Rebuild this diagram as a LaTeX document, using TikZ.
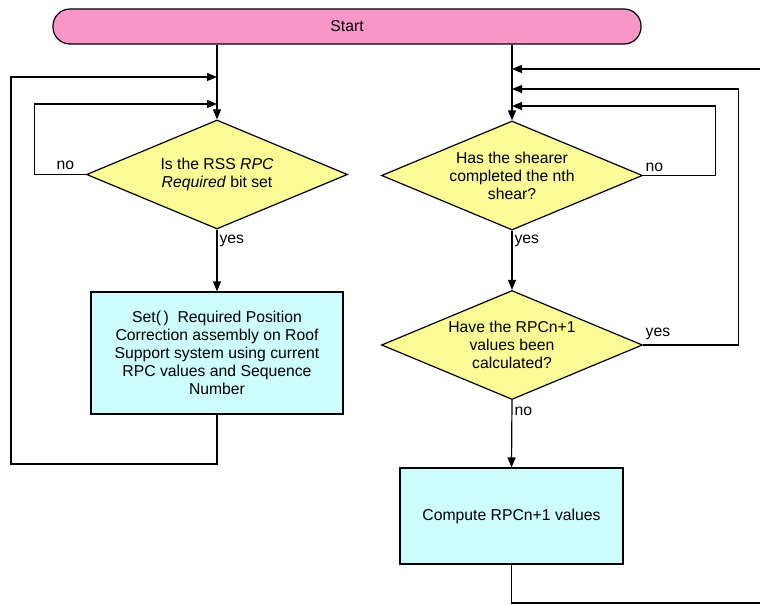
\documentclass[tikz,border=0pt]{standalone}
\usepackage{fontspec}
\setmainfont{Liberation Sans}
\usepackage{xcolor}
\usepackage{tikz}
\usetikzlibrary{shapes.geometric}
\usetikzlibrary{arrows.meta}

\definecolor{startpink}{RGB}{248,150,200}
\definecolor{askyellow}{RGB}{250,250,150}
\definecolor{docyan}{RGB}{204,252,252}

\tikzset{
  txt/.style={font=\fontsize{15.8}{18}\selectfont, text=black},
  terminal/.style={txt, draw, line width=1.2bp, fill=startpink, rounded corners=17bp,
    minimum width=588bp, minimum height=35bp, inner sep=0pt},
  decision/.style={draw, line width=1.2bp, fill=askyellow, diamond, inner sep=0pt,
    minimum width=261bp, minimum height=109bp},
  process/.style={txt, draw, line width=1.2bp, fill=docyan, rectangle, align=center, inner sep=0pt},
  flow/.style={line width=1.2bp, -{Triangle[length=10bp,width=8bp]}},
  lbl/.style={txt, inner sep=2bp}
}

\begin{document}
\begin{tikzpicture}[x=1bp, y=-1bp]
   \useasboundingbox (0,0) rectangle (760,605);
   \clip (0,0) rectangle (760,605);

   \node[terminal] (start) at (347,26.5) {Start};

   % left branch
   \node[decision, label={[txt, align=center]center:Is the RSS \textit{RPC}\\\textit{Required} bit set}] (rss) at (217,174.5) {};
   \node[process, minimum width=252bp, minimum height=122bp] (setrpc) at (217,353)
     {Set(\,)\ \ Required Position\\Correction assembly on Roof\\Support system using current\\RPC values and Sequence\\Number};

   % right branch
   \node[decision, label={[txt, align=center]center:Has the shearer\\completed the nth\\shear?}] (shear) at (512,175.5) {};
   \node[decision, label={[txt, align=center]center:Have the RPCn+1\\values been\\calculated?}] (calc) at (512,345) {};
   \node[process, minimum width=223bp, minimum height=96bp] (comp) at (511.5,516) {Compute RPCn+1 values};

   % join points on the columns
   \coordinate (joinA) at (217,77);
   \coordinate (joinB) at (217,104);
   \coordinate (joinC) at (512,69);
   \coordinate (joinD) at (512,89);
   \coordinate (joinE) at (512,106);
   \coordinate (lcorner) at (11,464);
   \coordinate (rcorner) at (775,603);

   \draw[flow] (start.south -| rss.north) -- (rss.north);
   \draw[flow] (start.south -| shear.north) -- (shear.north);

   \draw[flow] (rss.west) -- node[lbl, above, pos=0.4, yshift=2bp] {no} ++(-51,0) |- (joinB);
   \draw[flow] (rss.south) -- node[lbl, right, pos=0.18] {yes} (setrpc.north);
   \draw[flow] (setrpc.south) |- (lcorner) |- (joinA);

   \draw[flow] (shear.east) -- node[lbl, above right, pos=0, yshift=1bp] {no} ++(72,0) |- (joinE);
   \draw[flow] (shear.south) -- node[lbl, right, pos=0.18] {yes} (calc.north);
   \draw[flow] (calc.east) -- node[lbl, above right, pos=0, yshift=3bp] {yes} ++(95,0) |- (joinD);
   \draw[flow] (calc.south) -- node[lbl, right, pos=0.16] {no} (comp.north);
   \draw[flow] (comp.south) |- (rcorner) |- (joinC);
\end{tikzpicture}
\end{document}
